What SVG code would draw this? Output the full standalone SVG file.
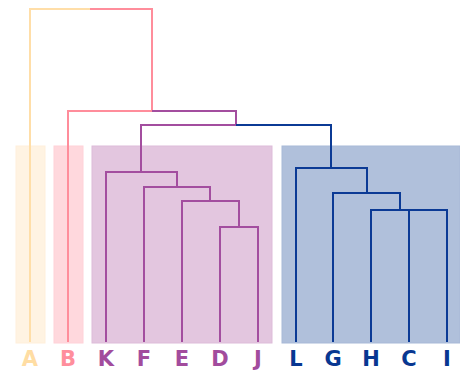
<svg xmlns="http://www.w3.org/2000/svg" width="460" height="370" viewBox="0 0 460 370">
  <style>
    .box { stroke-width: 1; }
    .ln { fill: none; stroke-width: 2; stroke-linejoin: miter; stroke-linecap: butt; }
    .yel { stroke: #FFDEA8; }
    .pnk { stroke: #FF8D9B; }
    .pur { stroke: #A34E9F; }
    .blu { stroke: #0B3A95; }
    .lbl { font-family: "DejaVu Sans", "Liberation Sans", sans-serif; font-weight: bold; font-size: 21px; text-anchor: middle; }
  </style>
  <rect width="460" height="370" fill="#ffffff"/>

  <!-- cluster bands -->
  <g id="bands">
    <rect class="box" x="16" y="146" width="29" height="197" fill="#FFF3E2" stroke="#FFEFDB"/>
    <rect class="box" x="54" y="146" width="29" height="197" fill="#FFD8DD" stroke="#FFD2D8"/>
    <rect class="box" x="92" y="146" width="180" height="197" fill="#E3C6DF" stroke="#DDBCD9"/>
    <rect class="box" x="282" y="146" width="178" height="197" fill="#B0C0DB" stroke="#A8B9D7"/>
  </g>

  <!-- dendrogram links -->
  <g id="connectors">
    <!-- root: A + rest -->
    <path class="ln yel" d="M30,342 V9 H91"/>
    <path class="ln pnk" d="M90,9 H152 V111"/>
    <!-- B + (purple, blue) -->
    <path class="ln pnk" d="M68,342 V111 H153"/>
    <path class="ln pur" d="M152,111 H236 V125"/>
    <!-- purple + blue -->
    <path class="ln pur" d="M141,172 V125 H237"/>
    <path class="ln blu" d="M236,125 H331 V168"/>
    <!-- purple cluster -->
    <path class="ln pur" d="M106,342 V172 H177 V187"/>
    <path class="ln pur" d="M144,342 V187 H210 V201"/>
    <path class="ln pur" d="M182,342 V201 H239 V227"/>
    <path class="ln pur" d="M220,342 V227 H258 V342"/>
    <!-- blue cluster -->
    <path class="ln blu" d="M296,342 V168 H367 V193"/>
    <path class="ln blu" d="M333,342 V193 H400 V210"/>
    <path class="ln blu" d="M371,342 V210 H447 V342"/>
    <path class="ln blu" d="M409,342 V210"/>
  </g>

  <!-- leaf labels -->
  <g id="labels">
    <text class="lbl" x="30" y="366" fill="#FFDDA3">A</text>
    <text class="lbl" x="68" y="366" fill="#FF8E9C">B</text>
    <text class="lbl" x="106" y="366" fill="#A24C9D">K</text>
    <text class="lbl" x="144" y="366" fill="#A24C9D">F</text>
    <text class="lbl" x="182" y="366" fill="#A24C9D">E</text>
    <text class="lbl" x="220" y="366" fill="#A24C9D">D</text>
    <text class="lbl" x="258" y="366" fill="#A24C9D">J</text>
    <text class="lbl" x="296" y="366" fill="#083791">L</text>
    <text class="lbl" x="333" y="366" fill="#083791">G</text>
    <text class="lbl" x="371" y="366" fill="#083791">H</text>
    <text class="lbl" x="409" y="366" fill="#083791">C</text>
    <text class="lbl" x="447" y="366" fill="#083791">I</text>
  </g>
</svg>
